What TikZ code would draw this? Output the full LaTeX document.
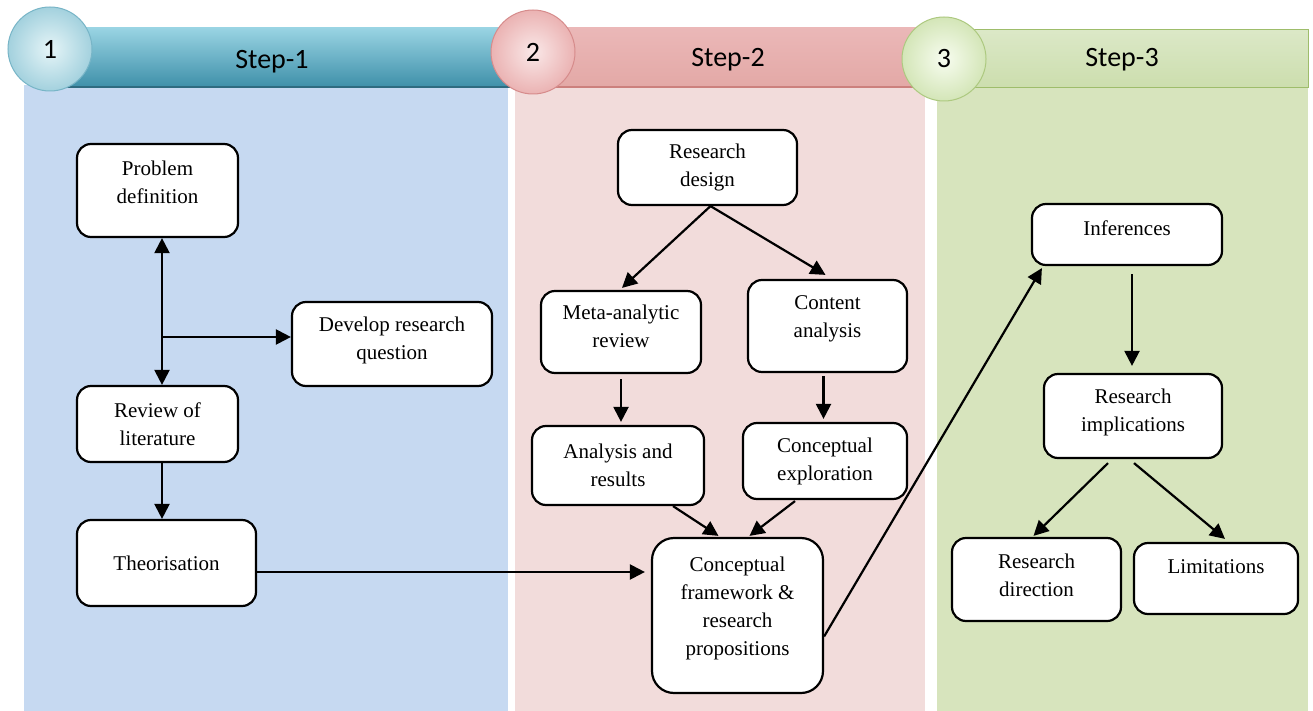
\documentclass[tikz,border=0pt]{standalone}
\usepackage{fontspec}
\setmainfont{Liberation Serif}
\newfontfamily\hdfont{Carlito}
\usetikzlibrary{arrows.meta,calc}

\definecolor{panelblue}{HTML}{C6D9F1}
\definecolor{panelpink}{HTML}{F2DCDB}
\definecolor{panelgreen}{HTML}{D7E4BD}
% header bar colours
\definecolor{bluetop}{rgb}{0.60,0.83,0.89}
\definecolor{bluemid}{rgb}{0.31,0.68,0.79}
\definecolor{bluebot}{rgb}{0.24,0.56,0.66}
\definecolor{blueedge}{rgb}{0.18,0.42,0.50}
\definecolor{pinktop}{rgb}{0.92,0.72,0.72}
\definecolor{pinkmid}{rgb}{0.97,0.88,0.88}
\definecolor{pinkbot}{rgb}{0.89,0.66,0.65}
\definecolor{pinkedge}{rgb}{0.80,0.50,0.49}
\definecolor{greentop}{rgb}{0.86,0.91,0.78}
\definecolor{greenmid}{rgb}{0.97,0.98,0.94}
\definecolor{greenbot}{rgb}{0.80,0.87,0.68}
\definecolor{greenedge}{rgb}{0.62,0.74,0.42}
% step number balls
\definecolor{ballblueline}{rgb}{0.47,0.71,0.78}
\definecolor{ballbluein}{rgb}{0.90,0.96,0.97}
\definecolor{ballblueout}{rgb}{0.64,0.82,0.87}
\definecolor{ballpinkline}{rgb}{0.84,0.55,0.55}
\definecolor{ballpinkin}{rgb}{0.98,0.91,0.91}
\definecolor{ballpinkout}{rgb}{0.92,0.70,0.70}
\definecolor{ballgreenline}{rgb}{0.68,0.79,0.50}
\definecolor{ballgreenin}{rgb}{0.97,0.99,0.94}
\definecolor{ballgreenout}{rgb}{0.83,0.90,0.72}

\begin{document}
\begin{tikzpicture}[x=1pt,y=-1pt,
  box/.style={draw=black, line width=2.2pt, rounded corners=14pt, fill=white,
    align=center, inner sep=0pt, font=\fontsize{21}{28}\selectfont},
  arr/.style={line width=2.2pt, -{Triangle[length=15pt,width=15pt]}},
  dblarr/.style={line width=2.2pt, {Triangle[length=15pt,width=15pt]}-{Triangle[length=15pt,width=15pt]}},
  hdtext/.style={font=\hdfont\fontsize{28}{30}\selectfont, text=black},
  ball/.style={circle, minimum size=84pt, inner sep=0pt, line width=1pt, hdtext},
]
\useasboundingbox (0,0) rectangle (1313,711);
\fill[white] (0,0) rectangle (1313,711);

% column panels
\fill[panelblue]  (24,85)  rectangle (508,711);
\fill[panelpink]  (515,85) rectangle (925,711);
\fill[panelgreen] (937,85) rectangle (1308,711);

% header bars
\shade[top color=bluetop, middle color=bluemid, bottom color=bluebot] (50,28) rectangle (510,88);
\draw[line width=1.5pt, blueedge] (50,87) -- (510,87);
\shade[top color=pinktop, middle color=pinkmid, bottom color=pinkbot] (533,28) rectangle (920,88);
\draw[line width=1.5pt, pinkedge] (533,87) -- (920,87);
\shade[top color=greentop, middle color=greenmid, bottom color=greenbot] (944,30) rectangle (1308,88);
\draw[line width=1pt, greenedge] (944,30) rectangle (1308,88);

% step numbers
\node[ball, draw=ballblueline, inner color=ballbluein, outer color=ballblueout] (n1) at (50,49) {1};
\node[ball, draw=ballpinkline, inner color=ballpinkin, outer color=ballpinkout] (n2) at (533,52) {2};
\node[ball, draw=ballgreenline, inner color=ballgreenin, outer color=ballgreenout] (n3) at (944,59) {3};

\node[hdtext] (s1) at (272,62) {Step-1};
\node[hdtext] (s2) at (728,60) {Step-2};
\node[hdtext] (s3) at (1122,60) {Step-3};

% step 1 boxes
\node[box, minimum width=161pt, minimum height=93pt, text depth=17pt] (prob) at (157.5,190.5) {Problem\\definition};
\node[box, minimum width=200pt, minimum height=84pt, text depth=12pt] (dev) at (392,344) {Develop research\\question};
\node[box, minimum width=161pt, minimum height=76pt] (rev) at (157.5,424) {Review of\\literature};
\node[box, minimum width=179pt, minimum height=86pt] (theo) at (166.5,563) {Theorisation};

% step 2 boxes
\node[box, minimum width=179pt, minimum height=75pt] (rd) at (707.5,167.5) {Research\\design};
\node[box, minimum width=160pt, minimum height=82pt, text depth=12pt] (meta) at (621,332) {Meta-analytic\\review};
\node[box, minimum width=159pt, minimum height=92pt, text depth=18pt] (cont) at (827.5,326) {Content\\analysis};
\node[box, minimum width=172pt, minimum height=79pt] (ana) at (618,465.5) {Analysis and\\results};
\node[box, minimum width=164pt, minimum height=76pt] (cexp) at (825,461) {Conceptual\\exploration};
\node[box, rounded corners=22pt, minimum width=171pt, minimum height=155pt, text depth=18pt] (cf) at (737.5,615.5)
  {Conceptual\\framework \&\\research\\propositions};

% step 3 boxes
\node[box, minimum width=190pt, minimum height=61pt, text depth=13pt] (inf) at (1127,234.5) {Inferences};
\node[box, minimum width=178pt, minimum height=84pt, text depth=12pt] (imp) at (1133,416) {Research\\implications};
\node[box, minimum width=169pt, minimum height=83pt, text depth=9pt] (dir) at (1036.5,579.5) {Research\\direction};
\node[box, minimum width=164pt, minimum height=71pt, text depth=23pt] (lim) at (1216,578.5) {Limitations};

% step 1 connectors
\coordinate (sp) at (162,337);
\draw[dblarr] (prob.south -| sp) -- (rev.north -| sp);
\draw[arr] (sp) -- (sp -| dev.west);
\draw[arr] (rev.south -| sp) -- (theo.north -| sp);
\coordinate (t1) at ($(theo.east)+(0,9)$);
\draw[arr, shorten >=6pt] (t1) -- (t1 -| cf.west);

% step 2 connectors
\coordinate (r1) at ($(rd.south)+(3,0)$);
\draw[arr] (r1) -- ($(meta.north)+(1,-2)$);
\draw[arr] (r1) -- ($(cont.north)+(-2,-4)$);
\coordinate (m1) at ($(meta.south)+(0,5)$);
\draw[arr, shorten >=3pt] (m1) -- (m1 |- ana.north);
\coordinate (c1) at ($(cont.south)+(-4,3)$);
\draw[arr, shorten >=3pt] (c1) -- (c1 |- cexp.north);
\draw[arr] ($(ana.south)+(55,0)$) -- ($(cf.north)+(-19,-1)$);
\draw[arr] ($(cexp.south)+(-30,1)$) -- ($(cf.north)+(12,-1)$);

% step 3 connectors
\draw[arr] ($(cf.east)+(0,21)$) -- ($(inf.south west)+(11,2)$);
\coordinate (i1) at ($(inf.south)+(5,8)$);
\draw[arr, shorten >=7pt] (i1) -- (i1 |- imp.north);
\draw[arr] ($(imp.south)+(-25,4)$) -- ($(dir.north)+(-3,-1)$);
\draw[arr] ($(imp.south)+(1,4)$) -- ($(lim.north)+(9,-3)$);
\end{tikzpicture}
\end{document}
